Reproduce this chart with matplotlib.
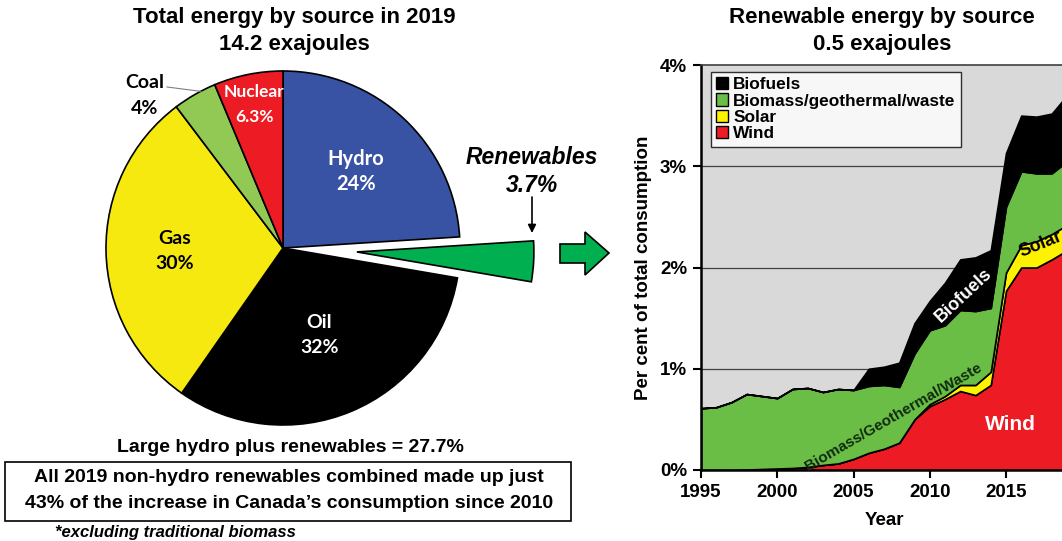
import numpy as np
import matplotlib
matplotlib.use("Agg")
import matplotlib.pyplot as plt
from matplotlib.patches import Rectangle, Polygon

plt.rcParams['font.family'] = ['Liberation Sans', 'DejaVu Sans']
plt.rcParams['font.weight'] = 'bold'
plt.rcParams['axes.labelweight'] = 'bold'

# ---- pie: total energy by source, 2019 (%)
pie_labels = ['Hydro', 'Renewables', 'Oil', 'Gas', 'Coal', 'Nuclear']
pie_values = [24.0, 3.7, 32.0, 30.0, 4.0, 6.3]
pie_colors = ['#3953A4', '#00B050', '#000000', '#F5E90F', '#92C955', '#ED1C24']

# ---- stacked area: renewables as % of total consumption
years = list(range(1995, 2020))
wind = [0.00, 0.00, 0.00, 0.005, 0.01, 0.015, 0.02, 0.03, 0.05, 0.065,
        0.11, 0.17, 0.21, 0.27, 0.50, 0.63, 0.70, 0.78, 0.74, 0.84,
        1.77, 2.00, 2.00, 2.08, 2.17]
solar = [0.0, 0.0, 0.0, 0.0, 0.0, 0.0, 0.0, 0.0, 0.0, 0.0,
         0.0, 0.0, 0.0, 0.0, 0.0, 0.02, 0.03, 0.06, 0.10, 0.13,
         0.18, 0.22, 0.26, 0.25, 0.25]
biomass = [0.61, 0.62, 0.67, 0.745, 0.72, 0.695, 0.78, 0.78, 0.72, 0.735,
           0.68, 0.66, 0.63, 0.55, 0.65, 0.73, 0.70, 0.74, 0.73, 0.63,
           0.65, 0.73, 0.67, 0.60, 0.63]
biofuels = [0.0, 0.0, 0.0, 0.0, 0.0, 0.0, 0.0, 0.0, 0.0, 0.0,
            0.0, 0.17, 0.18, 0.24, 0.30, 0.29, 0.42, 0.50, 0.53, 0.57,
            0.53, 0.55, 0.56, 0.59, 0.65]
area_colors = ['#ED1C24', '#FFF200', '#6ABD45', '#000000']
legend_names = ['Biofuels', 'Biomass/geothermal/waste', 'Solar', 'Wind']

W, H = 1062, 541
fig = plt.figure(figsize=(W / 100, H / 100), dpi=100)

# overlay axes in pixel units (y measured upward)
axp = fig.add_axes([0, 0, 1, 1])
cx, cy, rad = 283, H - 248, 177
explode = [74 if n == 'Renewables' else 0 for n in pie_labels]
wedges, _ = axp.pie(pie_values, colors=pie_colors, startangle=90, counterclock=False,
                    center=(cx, cy), radius=rad, explode=explode, frame=True,
                    wedgeprops=dict(edgecolor='black', linewidth=1.2))
axp.set_xlim(0, W)
axp.set_ylim(0, H)
axp.set_aspect('auto')
axp.axis('off')

inner = {'Hydro': (0.60, 'white', 14.5), 'Oil': (0.53, 'white', 14),
         'Gas': (0.61, 'black', 14), 'Nuclear': (0.83, 'white', 12.5)}
for w, name, val in zip(wedges, pie_labels, pie_values):
    if name not in inner:
        continue
    f, col, fs = inner[name]
    t = np.deg2rad((w.theta1 + w.theta2) / 2)
    x = cx + f * rad * np.cos(t)
    y = cy + f * rad * np.sin(t)
    pct = f'{val:g}%'
    axp.text(x, y + 12, name, ha='center', va='center', color=col,
             fontsize=fs, family='Lato', fontweight='bold')
    axp.text(x, y - 13, pct, ha='center', va='center', color=col,
             fontsize=fs, family='Lato', fontweight='bold')

# coal label with leader line
coal = wedges[pie_labels.index('Coal')]
tc = np.deg2rad(coal.theta1 + 0.35 * (coal.theta2 - coal.theta1))
axp.plot([cx + rad * np.cos(tc), 167], [cy + rad * np.sin(tc), H - 87],
         color='#808080', lw=0.8)
axp.text(145, H - 82, 'Coal', ha='center', va='center', fontsize=14,
         family='Lato', fontweight='bold')
axp.text(145, H - 108, f"{pie_values[pie_labels.index('Coal')]:g}%", ha='center',
         va='center', fontsize=14, family='Lato', fontweight='bold')

# renewables callout
axp.text(532, H - 157, 'Renewables', ha='center', va='center', fontsize=16.5,
         style='italic', fontweight='bold')
axp.text(532, H - 185, f"{pie_values[pie_labels.index('Renewables')]:g}%",
         ha='center', va='center', fontsize=16.5, style='italic', fontweight='bold')
axp.annotate('', xy=(532, H - 233), xytext=(532, H - 197),
             arrowprops=dict(arrowstyle='-|>', color='black', lw=1.2,
                             mutation_scale=12, shrinkA=0, shrinkB=0))

# block arrow pointing to the area chart
blk = [(560, H - 244), (585, H - 244), (585, H - 232), (609, H - 253),
       (585, H - 275), (585, H - 263), (560, H - 263)]
axp.add_patch(Polygon(blk, closed=True, facecolor='#00B050', edgecolor='black', lw=1.2))

# titles and notes
fig.text(294 / W, 1 - 18 / H, 'Total energy by source in 2019', ha='center',
         va='center', fontsize=16)
fig.text(294 / W, 1 - 45 / H, '14.2 exajoules', ha='center', va='center', fontsize=16)
fig.text(882 / W, 1 - 18 / H, 'Renewable energy by source', ha='center',
         va='center', fontsize=16)
fig.text(882 / W, 1 - 45 / H, '0.5 exajoules', ha='center', va='center', fontsize=16)

fig.text(290 / W, 1 - 447 / H, 'Large hydro plus renewables = 27.7%', ha='center',
         va='center', fontsize=14)
fig.add_artist(Rectangle((5 / W, 1 - 521 / H), 566 / W, 59 / H, transform=fig.transFigure,
                         facecolor='white', edgecolor='black', lw=1.2))
fig.text(289 / W, 1 - 477 / H, 'All 2019 non-hydro renewables combined made up just',
         ha='center', va='center', fontsize=14)
fig.text(289 / W, 1 - 503 / H, '43% of the increase in Canada\u2019s consumption since 2010',
         ha='center', va='center', fontsize=14)
fig.text(55 / W, 1 - 533 / H, '*excluding traditional biomass', ha='left',
         va='center', fontsize=12, style='italic')

# ---- right: stacked area chart (extends past the figure edge)
ax = fig.add_axes([701 / W, 1 - 470 / H, 366 / W, 405 / H])
ax.set_facecolor('#D9D9D9')
ax.stackplot(years, wind, solar, biomass, biofuels, colors=area_colors,
             edgecolor='black', linewidth=1.2, zorder=2)
ax.set_xlim(1995, 2019)
ax.set_ylim(0, 4)
ax.set_yticks([0, 1, 2, 3, 4])
ax.set_yticklabels(['0%', '1%', '2%', '3%', '4%'])
ax.set_xticks([1995, 2000, 2005, 2010, 2015])
for v in [1, 2, 3]:
    ax.axhline(v, color='#404040', lw=0.9, zorder=1)
ax.tick_params(axis='both', labelsize=13.5, length=6, width=1.5, direction='out')
ax.tick_params(axis='y', pad=4)
ax.tick_params(axis='x', pad=4)
for s in ['left', 'bottom']:
    ax.spines[s].set_linewidth(1.8)
ax.spines['top'].set_color('#404040')
ax.spines['top'].set_linewidth(1.2)
ax.set_xlabel('Year', fontsize=13.5, labelpad=8)
ax.set_ylabel('Per cent of total consumption', fontsize=13.5, labelpad=6)

handles = [Rectangle((0, 0), 1, 1, facecolor=c, edgecolor='black', lw=1)
           for c in area_colors[::-1]]
leg = ax.legend(handles, legend_names, loc='upper left', bbox_to_anchor=(0.027, 0.983),
                borderaxespad=0, fontsize=12.4, frameon=True, fancybox=False,
                handlelength=0.7, handleheight=0.7, handletextpad=0.3,
                labelspacing=0.08, borderpad=0.3)
leg.get_frame().set_edgecolor('black')
leg.get_frame().set_linewidth(1.0)

ax.text(2007.6, 0.52, 'Biomass/Geothermal/Waste', rotation=30, ha='center',
        va='center', fontsize=11, color='#102a10', zorder=3)
ax.text(2012.2, 1.72, 'Biofuels', rotation=43, ha='center', va='center',
        fontsize=13, color='white', zorder=3)
ax.text(2015.3, 0.45, 'Wind', ha='center', va='center', fontsize=15,
        color='white', zorder=3)
ax.text(2017.3, 2.23, 'Solar', rotation=22, ha='center', va='center',
        fontsize=13, color='black', zorder=3)

fig.savefig('out.png', dpi=100)
